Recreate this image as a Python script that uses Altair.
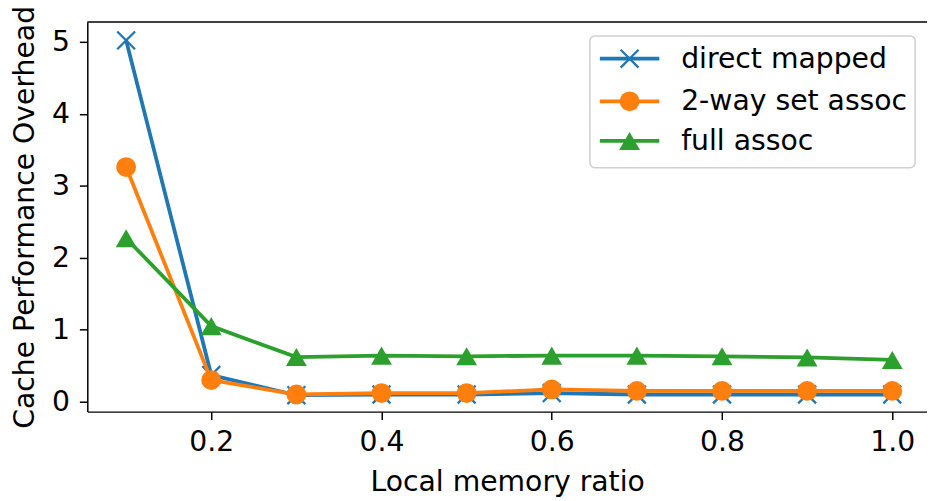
import altair as alt
import pandas as pd

# ---- data ----
ratio = [0.1, 0.2, 0.3, 0.4, 0.5, 0.6, 0.7, 0.8, 0.9, 1.0]
direct_mapped = [5.02, 0.37, 0.09, 0.10, 0.10, 0.12, 0.10, 0.10, 0.10, 0.10]
two_way = [3.26, 0.30, 0.10, 0.12, 0.12, 0.17, 0.15, 0.15, 0.15, 0.15]
full_assoc = [2.27, 1.05, 0.62, 0.64, 0.63, 0.64, 0.64, 0.63, 0.615, 0.58]
series_names = ["direct mapped", "2-way set assoc", "full assoc"]
colors = ["#1f77b4", "#ff7f0e", "#2ca02c"]
x_ticks = [0.2, 0.4, 0.6, 0.8, 1.0]
y_ticks = [0, 1, 2, 3, 4, 5]

W, H = 847, 393
FONT = "DejaVu Sans"
FS = 28.5

X_SHAPE = "M-1,-1L1,1M-1,1L1,-1"

df = pd.concat([
    pd.DataFrame({"ratio": ratio, "value": vals, "series": name})
    for name, vals in zip(series_names, [direct_mapped, two_way, full_assoc])
])

x_enc = alt.X(
    "ratio:Q",
    scale=alt.Scale(domain=[0.0544, 1.0408], nice=False, zero=False),
    axis=alt.Axis(values=x_ticks, format=".1f", title="Local memory ratio",
                  grid=False, domainColor="black", domainWidth=1.5,
                  tickColor="black", tickWidth=1.5, tickSize=8,
                  labelFontSize=FS, labelFont=FONT, labelColor="black",
                  labelPadding=8, labelFlush=False, labelOverlap=False,
                  titleFontSize=FS, titleFont=FONT, titleColor="black",
                  titleFontWeight="normal", titlePadding=12),
)
y_enc = alt.Y(
    "value:Q",
    scale=alt.Scale(domain=[-0.138, 5.275], nice=False, zero=False),
    axis=alt.Axis(values=y_ticks, format="d", title="Cache Performance Overhead",
                  grid=False, domainColor="black", domainWidth=1.5,
                  tickColor="black", tickWidth=1.5, tickSize=8,
                  labelFontSize=FS, labelFont=FONT, labelColor="black",
                  labelPadding=10, labelFlush=False, labelOverlap=False,
                  titleFontSize=FS, titleFont=FONT, titleColor="black",
                  titleFontWeight="normal", titlePadding=12),
)

base = alt.Chart(df).encode(x=x_enc, y=y_enc)

layers = []
marker_defs = [
    dict(shape=X_SHAPE, filled=False, size=324, strokeWidth=2.3),
    dict(shape="circle", filled=True, size=400, strokeWidth=0),
    dict(shape="triangle-up", filled=True, size=441, strokeWidth=0),
]
for name, col, md in zip(series_names, colors, marker_defs):
    sub = base.transform_filter(alt.datum.series == name)
    layers.append(sub.mark_line(color=col, strokeWidth=3.8))
    layers.append(sub.mark_point(color=col, opacity=1, **md))

# top frame line
one = pd.DataFrame({"k": [0]})
layers.append(alt.Chart(one).mark_rule(color="black", strokeWidth=1.5).encode(
    x=alt.value(0), x2=alt.value(W), y=alt.value(0)))

# legend (drawn manually, matplotlib style)
lx0, lx1, ly0, ly1 = 507, 835, 14, 147
layers.append(alt.Chart(one).mark_rect(
    fill="white", fillOpacity=0.8, stroke="#d0d0d0", strokeWidth=1.5, cornerRadius=5
).encode(x=alt.value(lx0), x2=alt.value(lx1), y=alt.value(ly0), y2=alt.value(ly1)))
leg_y = [37, 80, 120]
for name, col, md, yy in zip(series_names, colors, marker_defs, leg_y):
    layers.append(alt.Chart(one).mark_rule(color=col, strokeWidth=3.8).encode(
        x=alt.value(517), x2=alt.value(577), y=alt.value(yy)))
    layers.append(alt.Chart(one).mark_point(color=col, opacity=1, **md).encode(
        x=alt.value(547), y=alt.value(yy)))
    layers.append(alt.Chart(one).mark_text(
        text=name, align="left", baseline="middle", font=FONT, fontSize=FS, color="black"
    ).encode(x=alt.value(599), y=alt.value(yy)))

chart = alt.layer(*layers).properties(
    width=W, height=H,
    autosize=alt.AutoSizeParams(type="none"),
    padding={"left": 80, "top": 12, "right": 0, "bottom": 86},
).configure_view(stroke=None)

chart.save("out.html", embed_options={"renderer": "svg", "actions": False})
